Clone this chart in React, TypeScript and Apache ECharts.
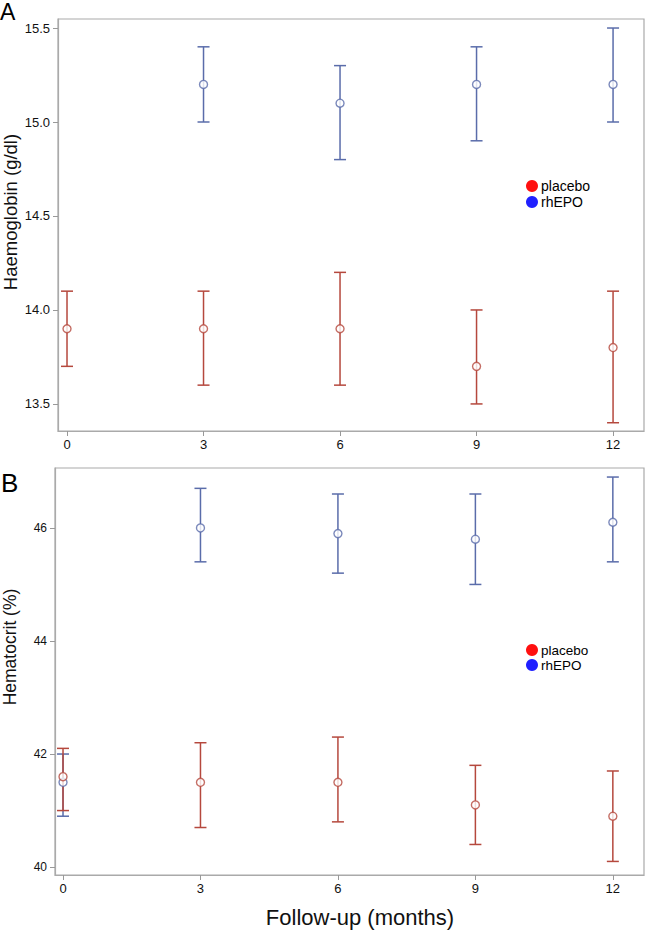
import React, { useEffect, useRef } from "react";
import * as echarts from "echarts";

const months = [0, 3, 6, 9, 12];

const hbPlaceboMean = [13.9, 13.9, 13.9, 13.7, 13.8];
const hbPlaceboLow = [13.7, 13.6, 13.6, 13.5, 13.4];
const hbPlaceboHigh = [14.1, 14.1, 14.2, 14.0, 14.1];
const hbEpoMean = [null, 15.2, 15.1, 15.2, 15.2];
const hbEpoLow = [null, 15.0, 14.8, 14.9, 15.0];
const hbEpoHigh = [null, 15.4, 15.3, 15.4, 15.5];

const hctPlaceboMean = [41.6, 41.5, 41.5, 41.1, 40.9];
const hctPlaceboLow = [41.0, 40.7, 40.8, 40.4, 40.1];
const hctPlaceboHigh = [42.1, 42.2, 42.3, 41.8, 41.7];
const hctEpoMean = [41.5, 46.0, 45.9, 45.8, 46.1];
const hctEpoLow = [40.9, 45.4, 45.2, 45.0, 45.4];
const hctEpoHigh = [42.0, 46.7, 46.6, 46.6, 46.9];

const hbTicks = [13.5, 14.0, 14.5, 15.0, 15.5];
const hctTicks = [40, 42, 44, 46];
const legendNames = ["placebo", "rhEPO"];

const RED = "#b5483d";
const BLUE = "#5a6caa";
const FONT = "Liberation Sans, Arial, sans-serif";

function errData(low: (number | null)[], high: (number | null)[]) {
  return months
    .map((m, i) => (low[i] == null ? null : [m, low[i], high[i]]))
    .filter((d) => d != null);
}
function ptData(mean: (number | null)[]) {
  return months.map((m, i) => (mean[i] == null ? null : [m, mean[i]])).filter((d) => d != null);
}

function errSeries(name: string, low: any, high: any, color: string, idx: number) {
  return {
    type: "custom",
    name,
    xAxisIndex: idx,
    yAxisIndex: idx,
    data: errData(low, high),
    encode: { x: 0, y: [1, 2] },
    renderItem: (params: any, api: any) => {
      const x = api.value(0);
      const lo = api.coord([x, api.value(1)]);
      const hi = api.coord([x, api.value(2)]);
      const hw = 6;
      const style = { stroke: color, lineWidth: 1.5 };
      return {
        type: "group",
        children: [
          { type: "line", shape: { x1: lo[0], y1: lo[1], x2: hi[0], y2: hi[1] }, style },
          { type: "line", shape: { x1: lo[0] - hw, y1: lo[1], x2: lo[0] + hw, y2: lo[1] }, style },
          { type: "line", shape: { x1: hi[0] - hw, y1: hi[1], x2: hi[0] + hw, y2: hi[1] }, style },
        ],
      };
    },
  };
}

function ptSeries(name: string, mean: any, color: string, idx: number) {
  return {
    type: "scatter",
    name,
    xAxisIndex: idx,
    yAxisIndex: idx,
    data: ptData(mean),
    symbol: "circle",
    symbolSize: 8,
    itemStyle: { color: "#fff", borderColor: color, borderWidth: 1.4 },
    z: 5,
  };
}

export default function App() {
  const ref = useRef<HTMLDivElement>(null);
  useEffect(() => {
    if (!ref.current) return;
    const chart = echarts.init(ref.current, null, { renderer: "svg" });
    const axisLine = { onZero: false, lineStyle: { color: "#aaaaaa", width: 1.2 } };
    const axisTick = (vals: number[]) => ({
      show: true,
      length: 5,
      customValues: vals,
      lineStyle: { color: "#999999" },
    });
    const xAxisBase = (idx: number, min: number, fs: number) => ({
      type: "value",
      gridIndex: idx,
      min,
      max: 12.68,
      splitLine: { show: false },
      axisLine,
      axisTick: axisTick(months),
      axisLabel: { customValues: months, color: "#111", fontFamily: FONT, fontSize: fs, margin: 7 },
    });
    chart.setOption({
      animation: false,
      backgroundColor: "#fff",
      grid: [
        { left: 58, top: 19, width: 586, height: 412, show: true, borderColor: "#aaaaaa", borderWidth: 1.2 },
        { left: 55, top: 468, width: 589, height: 407, show: true, borderColor: "#aaaaaa", borderWidth: 1.2 },
      ],
      xAxis: [xAxisBase(0, -0.198, 13), xAxisBase(1, -0.175, 13)],
      yAxis: [
        {
          type: "value",
          gridIndex: 0,
          min: 13.356,
          max: 15.548,
          splitLine: { show: false },
          axisLine,
          axisTick: axisTick(hbTicks),
          axisLabel: {
            customValues: hbTicks,
            formatter: (v: number) => v.toFixed(1),
            color: "#111",
            fontFamily: FONT,
            fontSize: 13,
            margin: 8,
          },
        },
        {
          type: "value",
          gridIndex: 1,
          min: 39.86,
          max: 47.06,
          splitLine: { show: false },
          axisLine,
          axisTick: axisTick(hctTicks),
          axisLabel: {
            customValues: hctTicks,
            color: "#111",
            fontFamily: FONT,
            fontSize: 12,
            margin: 8,
          },
        },
      ],
      series: [
        errSeries("rhEPO", hbEpoLow, hbEpoHigh, BLUE, 0),
        errSeries("placebo", hbPlaceboLow, hbPlaceboHigh, RED, 0),
        ptSeries("rhEPO", hbEpoMean, BLUE, 0),
        ptSeries("placebo", hbPlaceboMean, RED, 0),
        errSeries("rhEPO", hctEpoLow, hctEpoHigh, BLUE, 1),
        errSeries("placebo", hctPlaceboLow, hctPlaceboHigh, RED, 1),
        ptSeries("rhEPO", hctEpoMean, BLUE, 1),
        ptSeries("placebo", hctPlaceboMean, RED, 1),
      ],
      graphic: [
        { type: "text", left: 0, top: 0, style: { text: "A", font: `23px ${FONT}`, fill: "#000" } },
        { type: "text", left: 1, top: 470, style: { text: "B", font: `26px ${FONT}`, fill: "#000" } },
        {
          type: "text",
          x: 10,
          y: 212,
          rotation: Math.PI / 2,
          style: { text: "Haemoglobin (g/dl)", font: `18.5px ${FONT}`, fill: "#111", align: "center", verticalAlign: "middle" },
        },
        {
          type: "text",
          x: 10,
          y: 647,
          rotation: Math.PI / 2,
          style: { text: "Hematocrit (%)", font: `17.5px ${FONT}`, fill: "#111", align: "center", verticalAlign: "middle" },
        },
        {
          type: "text",
          x: 360,
          y: 917,
          style: { text: "Follow-up (months)", font: `22px ${FONT}`, fill: "#111", align: "center", verticalAlign: "middle" },
        },
        { type: "circle", shape: { cx: 532, cy: 186, r: 6 }, style: { fill: "#ff1010" } },
        { type: "circle", shape: { cx: 532, cy: 202, r: 6 }, style: { fill: "#2020ff" } },
        { type: "text", x: 541, y: 186, style: { text: legendNames[0], font: `14px ${FONT}`, fill: "#000", verticalAlign: "middle" } },
        { type: "text", x: 541, y: 202, style: { text: legendNames[1], font: `14px ${FONT}`, fill: "#000", verticalAlign: "middle" } },
        { type: "circle", shape: { cx: 532, cy: 650, r: 6 }, style: { fill: "#ff1010" } },
        { type: "circle", shape: { cx: 532, cy: 665, r: 6 }, style: { fill: "#2020ff" } },
        { type: "text", x: 541, y: 650, style: { text: legendNames[0], font: `13.5px ${FONT}`, fill: "#000", verticalAlign: "middle" } },
        { type: "text", x: 541, y: 665, style: { text: legendNames[1], font: `13.5px ${FONT}`, fill: "#000", verticalAlign: "middle" } },
      ],
    });
    return () => chart.dispose();
  }, []);
  return (
    <div
      ref={ref}
      style={{ position: "fixed", left: 0, top: 0, width: 646, height: 931, background: "#fff" }}
    />
  );
}
